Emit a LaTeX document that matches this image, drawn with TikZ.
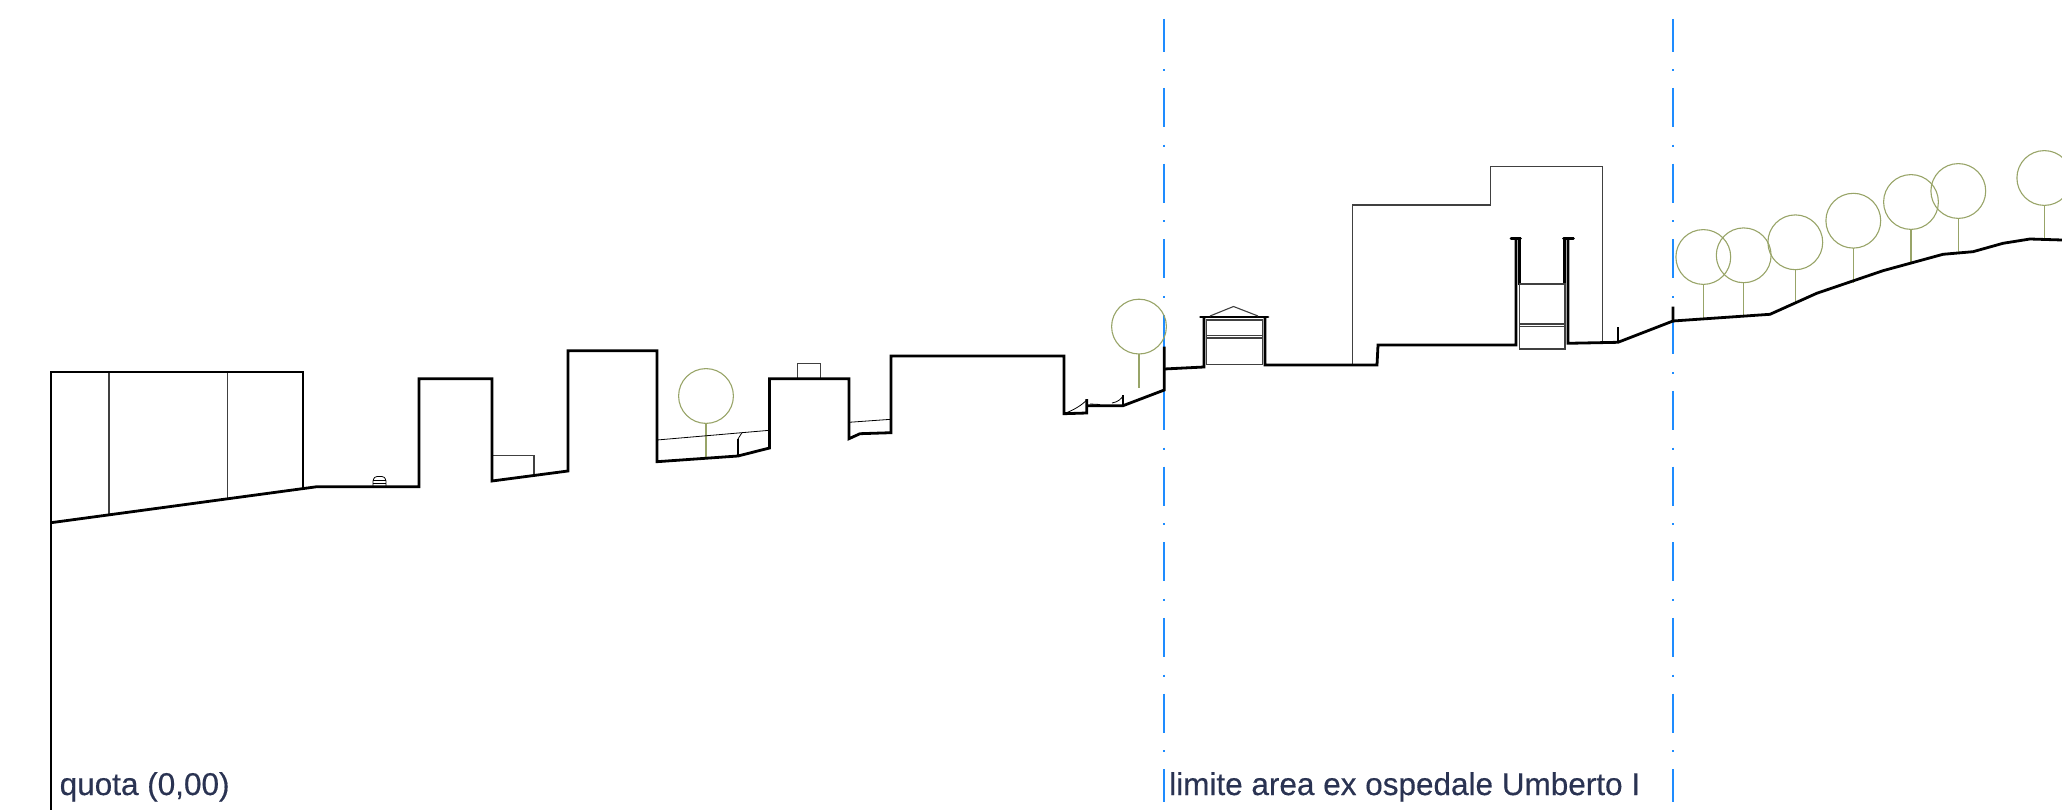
\documentclass[tikz,border=0pt]{standalone}
\usepackage{fontspec}
\setmainfont{Liberation Sans}
\newfontfamily\labelfont[FakeBold=0.4]{Liberation Sans}
\definecolor{navy}{HTML}{2A3352}
\definecolor{limit}{HTML}{1E8CFF}
\definecolor{tree}{HTML}{98A468}
\tikzset{
  section/.style={line width=2.8pt,black,line join=miter},
  thinline/.style={line width=1.1pt,black!75},
  hairline/.style={line width=0.8pt,black},
  limitline/.style={line width=2pt,limit},
  limitdash/.style={limitline,dash pattern=on 39pt off 17.7pt on 2pt off 17pt},
  treeline/.style={line width=1.1pt,tree},
  label/.style={text=navy,font=\labelfont\fontsize{31.5}{32}\selectfont,anchor=base west,inner sep=0pt}
}
\newcommand{\treeat}[4]{% x, y, radius, stem end
  \draw[treeline] (#1,#2) circle[radius=#3];
  \draw[treeline] (#1,#2+#3) -- (#1,#4);
}
\begin{document}
\begin{tikzpicture}[x=1pt,y=-1pt]
\useasboundingbox (0,0) rectangle (2062,810);
% limit lines
\draw[limitdash] (1164,88) -- (1164,802);
\draw[limitline] (1164,19) -- (1164,52);
\fill[limit] (1163,69.5) rectangle (1165,71.5);
\draw[limitdash] (1673,88) -- (1673,802);
\draw[limitline] (1673,19) -- (1673,52);
\fill[limit] (1672,69.5) rectangle (1674,71.5);
% trees
\treeat{706}{396}{27.4}{458}
\treeat{1139}{326.6}{27.4}{388}
\treeat{1703.3}{257}{27.4}{320}
\treeat{1743.7}{255.3}{27.4}{317}
\treeat{1795.3}{242.3}{27.4}{303}
\treeat{1853.3}{220.7}{27.4}{283}
\treeat{1911}{202}{27.4}{264}
\treeat{1958.3}{191}{27.4}{253}
\treeat{2044.3}{178}{27.4}{240}
% thin lines
\draw[thinline] (109,372) -- (109,514);
\draw[thinline] (227.7,372) -- (227.7,498);
\draw[thinline] (492,455.7) -- (534,455.7) -- (534,475);
\draw[hairline] (657,440) -- (769.5,430.3);
\draw[hairline] (738,439) -- (741.7,433);
\draw[thinline] (797.7,378.7) -- (797.7,363.3) -- (820.7,363.3) -- (820.7,378.7);
\draw[hairline] (849,422.3) -- (891,419.3);
\draw[thinline] (1352.7,365) -- (1352.7,205) -- (1490.7,205) -- (1490.7,166.3) -- (1602.3,166.3) -- (1602.3,342.7);
% car
\draw[hairline] (373,486) -- (373,481) .. controls (374,477.5) and (375,476.5) .. (377,476.5) -- (382,476.5) .. controls (384,476.5) and (385,477.5) .. (386,481) -- (386,486);
\draw[hairline] (373,480.5) -- (386,480.5);
\draw[hairline] (373,483) -- (386,483);
% main ground section
\draw[section] (51,810) -- (51,372) -- (303,372) -- (303,488);
\draw[section] (51,522.7) -- (317,486.7) -- (419,486.7) -- (419,378.7) -- (492,378.7) -- (492,481)
  -- (568,471) -- (568,350.7) -- (657,350.7) -- (657,461.7) -- (738,456) -- (769.5,448)
  -- (769.5,378.7) -- (849,378.7) -- (849,438.7) -- (860,433.7) -- (891,432.7) -- (891,356)
  -- (1064,356) -- (1064,413.7) -- (1086.7,413) -- (1086.7,399);
\draw[section] (1086.7,405.7) -- (1123,405.7) -- (1164.3,390) -- (1164.3,346.7);
\draw[section] (1123,405.7) -- (1123,394.7);
\draw[section] (738,456) -- (738,439);
% little stair wedges
\draw[hairline] (1064,413.7) .. controls (1074,410) and (1082,405) .. (1086.7,400);
\draw[hairline] (1112,403) .. controls (1118,402) and (1121,399) .. (1123,396);
\draw[hairline] (1090,404) -- (1100,404.5);
% house
\draw[section] (1164.3,369) -- (1204,367) -- (1204,317);
\draw[section] (1265,317) -- (1265,365) -- (1377,365) -- (1378,345) -- (1516,345) -- (1516,238);
\draw[section,line cap=round] (1200.5,317) -- (1268,317);
\draw[thinline] (1210,316) -- (1233.5,306.5) -- (1258,316);
\draw[thinline] (1206.7,320) rectangle (1262.7,364.3);
\draw[thinline] (1206.7,335.7) -- (1262.7,335.7);
\draw[thinline] (1206.7,338) -- (1262.7,338);
% tower
\draw[section] (1519.5,238) -- (1519.5,284) -- (1564.5,284) -- (1564.5,238);
\draw[section,line cap=round] (1511,238.3) -- (1520.5,238.3);
\draw[section,line cap=round] (1563.5,238.3) -- (1573.5,238.3);
\draw[thinline] (1519.5,284) rectangle (1565,349);
\draw[thinline] (1519.5,324) -- (1565,324);
\draw[thinline] (1519.5,326.7) -- (1565,326.7);
\draw[section] (1568,238) -- (1568,343.3) -- (1618,342.3) -- (1673,321) -- (1673,306.7);
\draw[section] (1618,342.3) -- (1618,326.7);
\draw[section] (1673,321) -- (1770,314.3) -- (1816.7,293.3) -- (1883,270.7) -- (1943,254.3) -- (1973,251.7) -- (2003,243.3) -- (2030,239) -- (2062,240);
% labels
\node[label] (quota) at (59.5,795) {quota (0,00)};
\node[label] (limite) at (1169,795) {limite area ex ospedale Umberto I};
\end{tikzpicture}
\end{document}
